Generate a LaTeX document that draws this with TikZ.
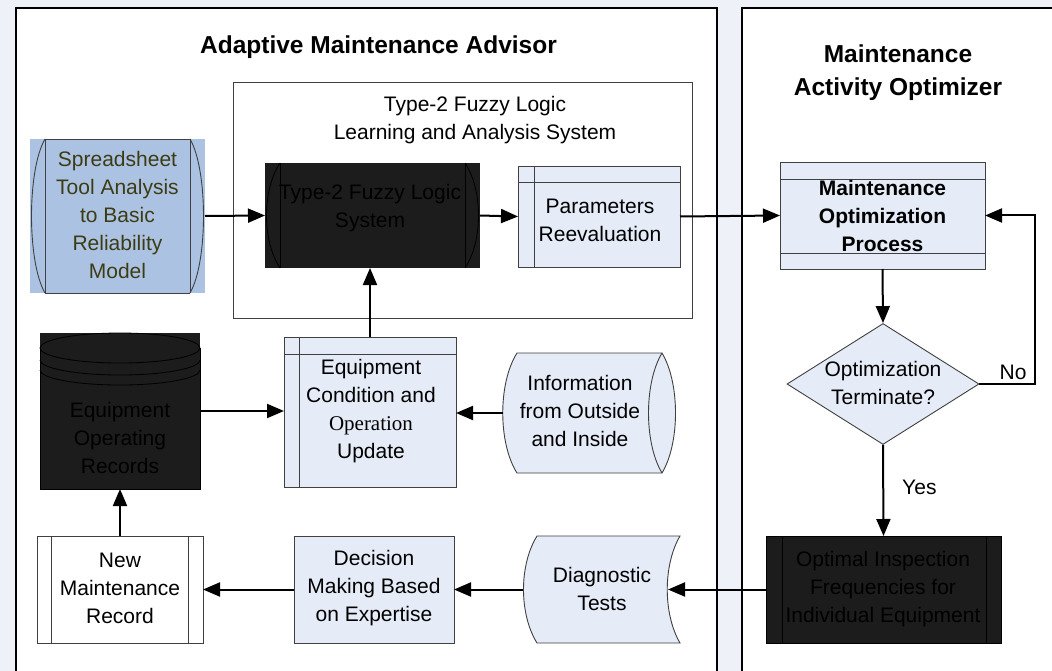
\documentclass[tikz,border=0pt]{standalone}
\usepackage{fontspec}
\setmainfont{Liberation Sans}
\newfontfamily\timesf{Liberation Serif}
\usetikzlibrary{arrows.meta,shapes.geometric,calc}
\definecolor{bgcol}{HTML}{EEF2F8}
\definecolor{lblue}{HTML}{E5ECF7}
\definecolor{ssblue}{HTML}{ACC2E3}
\definecolor{olive}{HTML}{3C3C14}
\definecolor{blk}{HTML}{1C1C1C}
\definecolor{edge}{HTML}{404040}
\begin{document}
\begin{tikzpicture}[x=1pt,y=-1pt,
  txt/.style={font=\fontsize{21}{28}\selectfont, align=center, inner sep=0pt},
  btxt/.style={font=\bfseries\fontsize{21}{28}\selectfont, align=center, inner sep=0pt},
  ttl/.style={font=\bfseries\fontsize{24.5}{33}\selectfont, align=center, inner sep=0pt},
  shp/.style={draw=edge, line width=0.9pt},
  arr/.style={line width=2pt, -{Triangle[length=17pt,width=14pt]}},
  panel/.style={draw=black, line width=1.3pt, fill=white},
  ghost/.style={inner sep=0pt, outer sep=0pt, rectangle}
]
\useasboundingbox[fill=bgcol] (0,0) rectangle (1052,671);
\clip (0,0) rectangle (1052,671);

% panels
\draw[panel] (16,8) rectangle (717,690);
\draw[panel] (742,8) rectangle (1070,690);

% titles
\node[ttl] (t1) at (378.5,47) {Adaptive Maintenance Advisor};
\node[ttl] (t2) at (898,73) {Maintenance\\Activity Optimizer};

% inner system box
\node[ghost, draw=edge, line width=0.9pt, fill=white, minimum width=459pt, minimum height=236pt] (flbox) at (462.5,200) {};
\node[txt] (flt) at (475,120) {Type-2 Fuzzy Logic\\Learning and Analysis System};

% spreadsheet tool
\node[ghost, fill=ssblue, minimum width=175pt, minimum height=154pt] (ss) at (117.5,216) {};
\draw[shp] (45,139) -- (190,139) (45,293) -- (190,293) (45,139) -- (45,293) (190,139) -- (190,293);
\draw[shp] (45,139) .. controls (27,170) and (27,262) .. (45,293);
\draw[shp] (190,139) .. controls (208,170) and (208,262) .. (190,293);
\node[txt, text=olive] (sst) at (117.5,215) {Spreadsheet\\Tool Analysis\\to Basic\\Reliability\\Model};

% type-2 fuzzy logic system
\node[ghost, fill=blk, minimum width=215pt, minimum height=105pt] (fls) at (372.5,215.5) {};
\draw[black, line width=0.8pt] (280,163) -- (280,268) (465,163) -- (465,268);
\draw[black, line width=0.8pt] (280,163) .. controls (262,190) and (262,241) .. (280,268);
\draw[black, line width=0.8pt] (465,163) .. controls (483,190) and (483,241) .. (465,268);
\node[txt, text=black] (flst) at (370,208.5) {Type-2 Fuzzy Logic\\System};

% parameters reevaluation
\node[ghost, shp, fill=lblue, minimum width=162pt, minimum height=101pt] (par) at (599,216.5) {};
\draw[shp] (518,182) -- (680,182) (534,166) -- (534,267);
\node[txt] (part) at (600,220) {Parameters\\Reevaluation};

% maintenance optimization process
\node[ghost, shp, fill=lblue, minimum width=205pt, minimum height=107pt] (mop) at (882.5,215.5) {};
\draw[shp] (780,179) -- (985,179) (780,253) -- (985,253);
\node[btxt] (mopt) at (882.5,215.5) {Maintenance\\Optimization\\Process};

% decision diamond
\node[draw=edge, line width=0.9pt, fill=lblue, diamond, minimum width=192pt, minimum height=121pt, inner sep=0pt] (dec) at (883,384) {};
\node[txt] (dect) at (883,383) {Optimization\\Terminate?};

% optimal inspection frequencies
\node[ghost, draw=black, line width=0.9pt, fill=blk, minimum width=235pt, minimum height=107pt] (opt) at (883.5,589.5) {};
\draw[black, line width=0.8pt] (782,536) -- (782,643) (986,536) -- (986,643);
\node[txt, text=black] (optt) at (883,589) {Optimal Inspection\\Frequencies for\\Individual Equipment};

% diagnostic tests
\node[ghost, minimum width=145pt, minimum height=107pt] (diag) at (595.5,589.5) {};
\draw[shp, fill=lblue] (537,536) -- (680,536) .. controls (663,565) and (663,614) .. (680,643) -- (537,643) .. controls (519,614) and (519,565) .. (537,536) -- cycle;
\node[txt] (diagt) at (602,589) {Diagnostic\\Tests};

% decision making
\node[ghost, shp, fill=lblue, minimum width=160pt, minimum height=107pt] (decm) at (374,589.5) {};
\node[txt] (decmt) at (374,588.5) {Decision\\Making Based\\on Expertise};

% new maintenance record
\node[ghost, shp, fill=white, minimum width=166pt, minimum height=107pt] (newr) at (120,589.5) {};
\draw[shp] (51,536) -- (51,643) (188,536) -- (188,643);
\node[txt] (newrt) at (120,588.5) {New\\Maintenance\\Record};

% equipment operating records (cylinder)
\node[ghost, fill=blk, minimum width=160pt, minimum height=156pt] (eor) at (120,411) {};
\draw[black, line width=0.8pt] (120,348) ellipse [x radius=80, y radius=15];
\draw[black, line width=0.8pt] (40,360) .. controls (40,368.28) and (75.8,375) .. (120,375) .. controls (164.2,375) and (200,368.28) .. (200,360);
\draw[black, line width=0.8pt] (40,370) .. controls (40,378.28) and (75.8,385) .. (120,385) .. controls (164.2,385) and (200,378.28) .. (200,370);
\draw[black, line width=0.8pt] (40,348) -- (40,489) -- (200,489) -- (200,348);
\node[txt, text=black] (eort) at (120,438) {Equipment\\Operating\\Records};

% equipment condition and operation update
\node[ghost, shp, fill=lblue, minimum width=172pt, minimum height=150pt] (ecu) at (370,412) {};
\draw[shp] (284,354) -- (456,354) (299,337) -- (299,487);
\node[txt] (ecut) at (371,411) {Equipment\\Condition and\\{\timesf Operation}\\Update};

% information from outside and inside
\node[ghost, minimum width=172pt, minimum height=120pt] (info) at (589,413) {};
\draw[shp, fill=lblue] (517,353) -- (662,353) .. controls (680,383) and (680,443) .. (662,473) -- (517,473) .. controls (498,443) and (498,383) .. (517,353) -- cycle;
\draw[shp] (662,353) .. controls (644,383) and (644,443) .. (662,473);
\node[txt] (infot) at (580,411) {Information\\from Outside\\and Inside};

% connectors
\draw[arr] (ss.east) -- (fls.west);
\draw[arr] (fls.east) -- (par.west);
\draw[arr] (par.east) -- (mop.west);
\draw[arr] (mop.south) -- (dec.north);
\draw[arr] (dec.east) -- node[pos=0.6, above, inner sep=3pt, font=\fontsize{21}{28}\selectfont] (nolbl) {No} ++(56,0) |- (mop.east);
\draw[arr] (dec.south) -- node[pos=0.47, anchor=west, inner sep=0pt, xshift=18pt, font=\fontsize{21}{28}\selectfont] (yeslbl) {Yes} (opt.north);
\draw[arr] (opt.west) -- (diag.east);
\draw[arr] (diag.west) -- (decm.east);
\draw[arr] (decm.west) -- (newr.east);
\draw[arr] (newr.north) -- (eor.south);
\draw[arr] (eor.east) -- (eor.east -| ecu.west);
\draw[arr] (info.west) -- (info.west -| ecu.east);
\draw[arr] (ecu.north) -- (ecu.north |- fls.south);
\end{tikzpicture}
\end{document}
